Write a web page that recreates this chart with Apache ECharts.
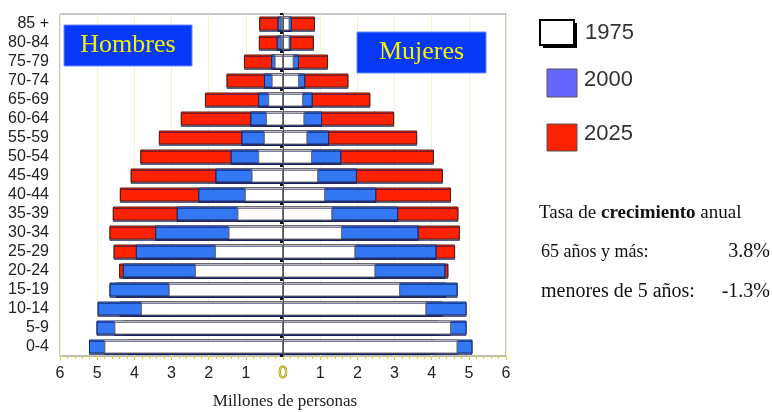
<!DOCTYPE html>
<html>
<head>
<meta charset="utf-8">
<script src="https://cdn.jsdelivr.net/npm/echarts@6/dist/echarts.min.js"></script>
<style>html,body{margin:0;padding:0;background:#fff}#c{width:772px;height:412px}</style>
</head>
<body>
<div id="c"></div>
<script>
// Age groups, bottom to top
var ages = ['0-4','5-9','10-14','15-19','20-24','25-29','30-34','35-39','40-44','45-49','50-54','55-59','60-64','65-69','70-74','75-79','80-84','85 +'];
// Millions of persons - Hombres (men), bottom to top
var men1975 = [4.81,4.54,3.82,3.08,2.37,1.83,1.47,1.23,1.03,0.85,0.67,0.52,0.46,0.40,0.31,0.23,0.06,0.06];
var men2000 = [5.22,5.02,4.99,4.67,4.31,3.96,3.44,2.86,2.28,1.82,1.41,1.12,0.88,0.67,0.51,0.32,0.17,0.15];
var men2025 = [4.20,4.30,4.40,4.50,4.41,4.56,4.67,4.58,4.39,4.10,3.84,3.34,2.75,2.10,1.52,1.05,0.65,0.64];
// Mujeres (women)
var women1975 = [4.70,4.52,3.86,3.15,2.49,1.95,1.59,1.33,1.13,0.95,0.78,0.66,0.58,0.54,0.43,0.29,0.18,0.18];
var women2000 = [5.10,4.94,4.94,4.70,4.37,4.13,3.65,3.10,2.51,1.99,1.57,1.24,1.05,0.80,0.60,0.43,0.22,0.24];
var women2025 = [4.10,4.20,4.30,4.40,4.45,4.63,4.76,4.72,4.52,4.30,4.06,3.61,2.99,2.35,1.76,1.21,0.83,0.86];
var xTicks = [-6,-5,-4,-3,-2,-1,0,1,2,3,4,5,6];
var years = ['1975','2000','2025'];

var RED = '#FF2200', BLUE = '#3377F2', WHITE = '#FFFFFF';
function neg(a){ return a.map(function(v){ return -v; }); }
function mk(name, data, color, border){
  return {
    name: name, type: 'bar', data: data, barWidth: 14, barGap: '-100%',
    yAxisIndex: 0, silent: true, animation: false,
    itemStyle: { color: color, borderColor: border, borderWidth: 1,
      shadowColor: 'rgba(10,20,90,0.55)', shadowOffsetY: 1.5, shadowOffsetX: 0, shadowBlur: 0 }
  };
}
var chart = echarts.init(document.getElementById('c'), null, {renderer: 'canvas'});
var serif = 'Liberation Serif, Times New Roman, serif';
var sans = 'Liberation Sans, Arial, sans-serif';
chart.setOption({
  backgroundColor: '#fff',
  animation: false,
  grid: { left: 60, right: 266, top: 14, bottom: 56, show: true, borderColor: '#8a8a8a', borderWidth: 1, backgroundColor: 'transparent' },
  xAxis: {
    type: 'value', min: -6, max: 6, interval: 1,
    axisLine: { show: true, onZero: false, lineStyle: { color: '#b8b8a8' } },
    axisTick: { show: true, length: 4, lineStyle: { color: '#e2d400' } },
    minorTick: { show: true, splitNumber: 5, length: 3, lineStyle: { color: '#e2d400' } },
    splitLine: { show: true, lineStyle: { color: '#f6f1cf', width: 1 } },
    axisLabel: {
      margin: 10, fontSize: 16, color: '#222', fontFamily: sans,
      formatter: function(v){ return v === 0 ? '{z|0}' : String(Math.abs(v)); },
      rich: { z: { fontSize: 16, fontFamily: sans, color: '#E8DA00', textBorderColor: '#555', textBorderWidth: 0.8 } }
    }
  },
  yAxis: [
    { type: 'category', data: ages, position: 'left',
      axisLine: { show: false, onZero: false }, axisTick: { show: false },
      axisLabel: { interval: 0, fontSize: 16, color: '#222', fontFamily: sans, margin: 11 } },
    { type: 'category', data: ages, position: 'left', z: 10,
      axisLine: { show: true, onZero: true, lineStyle: { color: '#555', width: 1 } },
      axisTick: { show: true, interval: 0, length: 3, lineStyle: { color: '#111', width: 2 } },
      axisLabel: { show: false } }
  ],
  series: [
    mk('2025', neg(men2025), RED, '#5a1a10'),
    mk('2000', neg(men2000), BLUE, '#1a2a6a'),
    mk('1975', neg(men1975), WHITE, '#707070'),
    mk('2025', women2025, RED, '#5a1a10'),
    mk('2000', women2000, BLUE, '#1a2a6a'),
    mk('1975', women1975, WHITE, '#707070')
  ],
  graphic: [
    { type: 'rect', shape: { x: 64, y: 25, width: 128, height: 41 }, style: { fill: '#0838F8', stroke: '#6a8cff', lineWidth: 1 }, z: 20 },
    { type: 'text', x: 128, y: 45.5, style: { text: 'Hombres', fill: '#F2F200', font: '26px ' + serif, align: 'center', verticalAlign: 'middle' }, z: 21 },
    { type: 'rect', shape: { x: 357, y: 32, width: 129, height: 41 }, style: { fill: '#0838F8', stroke: '#6a8cff', lineWidth: 1 }, z: 20 },
    { type: 'text', x: 421.5, y: 52.5, style: { text: 'Mujeres', fill: '#F2F200', font: '26px ' + serif, align: 'center', verticalAlign: 'middle' }, z: 21 },
    // legend
    { type: 'rect', shape: { x: 543, y: 23, width: 34, height: 25 }, style: { fill: '#000' }, z: 20 },
    { type: 'rect', shape: { x: 540, y: 20, width: 34, height: 25 }, style: { fill: '#fff', stroke: '#000', lineWidth: 2 }, z: 21 },
    { type: 'text', x: 585, y: 33, style: { text: years[0], fill: '#333', font: '22px ' + sans, verticalAlign: 'middle' }, z: 21 },
    { type: 'rect', shape: { x: 547, y: 69, width: 30, height: 28 }, style: { fill: '#6666FF', stroke: '#555', lineWidth: 1 }, z: 21 },
    { type: 'text', x: 584, y: 80, style: { text: years[1], fill: '#333', font: '22px ' + sans, verticalAlign: 'middle' }, z: 21 },
    { type: 'rect', shape: { x: 547, y: 124, width: 30, height: 27 }, style: { fill: '#FF2200', stroke: '#555', lineWidth: 1 }, z: 21 },
    { type: 'text', x: 584, y: 134, style: { text: years[2], fill: '#333', font: '22px ' + sans, verticalAlign: 'middle' }, z: 21 },
    // growth text
    { type: 'text', x: 539, y: 213, style: {
        text: 'Tasa de {b|crecimiento} anual', fill: '#111', font: '19px ' + serif, verticalAlign: 'middle',
        rich: { b: { fontWeight: 'bold', fontSize: 19, fontFamily: serif, fill: '#111' } } }, z: 21 },
    { type: 'text', x: 541, y: 252, style: { text: '65 años y más:', fill: '#111', font: '18px ' + serif, verticalAlign: 'middle' }, z: 21 },
    { type: 'text', x: 770, y: 252, style: { text: '3.8%', fill: '#111', font: '20px ' + serif, align: 'right', verticalAlign: 'middle' }, z: 21 },
    { type: 'text', x: 541, y: 292, style: { text: 'menores de 5 años:', fill: '#111', font: '20px ' + serif, verticalAlign: 'middle' }, z: 21 },
    { type: 'text', x: 770, y: 292, style: { text: '-1.3%', fill: '#111', font: '20px ' + serif, align: 'right', verticalAlign: 'middle' }, z: 21 },
    // axis title
    { type: 'text', x: 285, y: 393, style: { text: 'Millones de personas', fill: '#222', font: '17px ' + serif, align: 'center', verticalAlign: 'top' }, z: 21 }
  ]
});
</script>
</body>
</html>
